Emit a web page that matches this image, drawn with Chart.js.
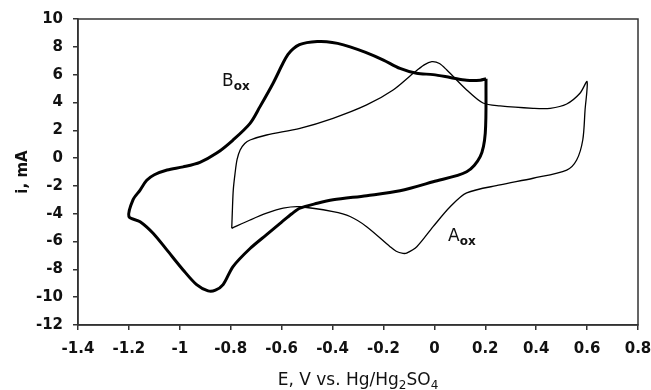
<!DOCTYPE html>
<html>
<head>
<meta charset="utf-8">
<script src="https://cdn.jsdelivr.net/npm/chart.js@4/dist/chart.umd.min.js"></script>
<style>
  html, body { margin: 0; padding: 0; background: #fff; }
  #wrap { width: 651px; height: 390px; position: relative; }
</style>
</head>
<body>
<div id="wrap"><canvas id="cvChart"></canvas></div>
<script>
// Thick loop (B), potential in V and current in mA
const curveB_E = [0.203, 0.18, 0.127, 0.062, -0.005, -0.07, -0.135, -0.2, -0.27, -0.331, -0.38, -0.423, -0.46, -0.501,
  -0.53, -0.555, -0.575, -0.594, -0.633, -0.685, -0.724, -0.791, -0.855, -0.921, -0.987, -1.05, -1.1, -1.13, -1.156,
  -1.184, -1.2, -1.156, -1.105, -1.051, -0.987, -0.934, -0.889, -0.86, -0.83, -0.791, -0.724, -0.659, -0.6, -0.56, -0.528,
  -0.46, -0.398, -0.266, -0.135, -0.005, 0.127, 0.18, 0.2, 0.203];
const curveB_I = [5.7, 5.6, 5.6, 5.8, 6.0, 6.1, 6.45, 7.05, 7.6, 8.0, 8.25, 8.37, 8.38, 8.3,
  8.15, 7.85, 7.45, 6.85, 5.4, 3.7, 2.5, 1.3, 0.36, -0.3, -0.63, -0.86, -1.2, -1.6, -2.3,
  -3.0, -4.2, -4.57, -5.4, -6.6, -8.04, -9.1, -9.55, -9.5, -9.1, -7.8, -6.5, -5.5, -4.6, -4.0, -3.6,
  -3.25, -3.0, -2.7, -2.35, -1.7, -0.98, 0.1, 1.8, 5.7];

// Thin loop (A)
const curveA_E = [-0.796, -0.793, -0.79, -0.783, -0.775, -0.763, -0.745, -0.724, -0.659, -0.528, -0.398, -0.266, -0.162,
  -0.083, -0.04, -0.01, 0.02, 0.049, 0.127, 0.191, 0.258, 0.388, 0.455, 0.52, 0.572, 0.6,
  0.592, 0.583, 0.559, 0.52, 0.388, 0.258, 0.127, 0.062, -0.005, -0.069, -0.109, -0.123, -0.15, -0.174,
  -0.266, -0.331, -0.398, -0.528, -0.594, -0.659, -0.724, -0.796];
const curveA_I = [-5.05, -3.5, -2.3, -1.1, -0.1, 0.58, 1.05, 1.3, 1.66, 2.14, 2.86, 3.82, 4.9,
  6.1, 6.7, 6.93, 6.8, 6.33, 4.9, 3.96, 3.75, 3.58, 3.58, 3.89, 4.66, 5.5,
  3.46, 1.3, -0.14, -0.86, -1.45, -1.93, -2.5, -3.5, -4.93, -6.37, -6.83, -6.85, -6.7, -6.37,
  -4.93, -4.2, -3.85, -3.5, -3.6, -3.96, -4.45, -5.05];

// Axis ranges / ticks
const xRange = [-1.4, 0.8];
const xStep = 0.2;
const yRange = [-12, 10];
const yStep = 2;

// Peak labels: [main letter, subscript, E, i]
const peakLabels = [['B', 'ox', -0.834, 5.6], ['A', 'ox', 0.054, -5.5]];

const toPts = (xs, ys) => xs.map((x, i) => ({ x: x, y: ys[i] }));
const axisColor = '#333';

// draw the frame, the x title with subscripts and the peak labels
const extras = {
  id: 'extras',
  afterDraw(chart) {
    const { ctx, chartArea: a, scales } = chart;
    ctx.save();
    ctx.strokeStyle = axisColor;
    ctx.lineWidth = 1.5;
    ctx.strokeRect(a.left, a.top, a.right - a.left, a.bottom - a.top);

    ctx.fillStyle = '#111';
    ctx.textBaseline = 'alphabetic';
    // x title: E, V vs. Hg/Hg2SO4
    const parts = [['E, V vs. Hg/Hg', 0], ['2', 1], ['SO', 0], ['4', 1]];
    const big = '17px "DejaVu Sans"', small = '12px "DejaVu Sans"';
    let w = 0;
    parts.forEach(p => { ctx.font = p[1] ? small : big; w += ctx.measureText(p[0]).width; });
    let x = (a.left + a.right) / 2 - w / 2;
    const yb = 385;
    parts.forEach(p => {
      ctx.font = p[1] ? small : big;
      ctx.fillText(p[0], x, p[1] ? yb + 4 : yb);
      x += ctx.measureText(p[0]).width;
    });

    // peak labels
    peakLabels.forEach(l => {
      const px = scales.x.getPixelForValue(l[2]);
      const py = scales.y.getPixelForValue(l[3]);
      ctx.font = '17px "DejaVu Sans"';
      ctx.fillText(l[0], px, py + 6);
      const bw = ctx.measureText(l[0]).width;
      ctx.font = 'bold 12px "DejaVu Sans"';
      ctx.fillText(l[1], px + bw, py + 10);
    });
    ctx.restore();
  }
};

const lineDs = (label, pts, width) => ({
  label: label,
  data: pts,
  showLine: true,
  borderColor: '#000',
  borderWidth: width,
  pointRadius: 0,
  tension: 0.3,
  fill: false
});

const config = {
  type: 'scatter',
  data: {
    datasets: [
      lineDs('B', toPts(curveB_E, curveB_I), 3),
      lineDs('A', toPts(curveA_E, curveA_I), 1.3)
    ]
  },
  options: {
    responsive: false,
    animation: false,
    layout: { padding: { top: 19, right: 13, left: 0, bottom: 0 } },
    plugins: {
      legend: { display: false },
      tooltip: { enabled: false }
    },
    scales: {
      x: {
        type: 'linear',
        min: xRange[0],
        max: xRange[1],
        // fixed height, and no extra room for the end labels
        afterFit: s => { s.height = 65; s.paddingLeft = 0; s.paddingRight = 0; },
        border: { display: true, color: axisColor, width: 1.5 },
        grid: { drawOnChartArea: false, drawTicks: true, tickLength: 5, color: axisColor, lineWidth: 1.5 },
        ticks: {
          stepSize: xStep,
          padding: 10,
          color: '#111',
          font: { family: 'DejaVu Sans', size: 15, weight: 'bold' },
          callback: v => String(parseFloat(v.toFixed(1)))
        },
        title: { display: false }
      },
      y: {
        type: 'linear',
        min: yRange[0],
        max: yRange[1],
        afterFit: s => { s.width = 78; s.paddingTop = 0; s.paddingBottom = 0; },
        border: { display: true, color: axisColor, width: 1.5 },
        grid: { drawOnChartArea: false, drawTicks: true, tickLength: 5, color: axisColor, lineWidth: 1.5 },
        ticks: {
          stepSize: yStep,
          padding: 10,
          color: '#111',
          font: { family: 'DejaVu Sans', size: 15, weight: 'bold' },
          callback: v => String(v)
        },
        title: {
          display: true,
          text: 'i, mA',
          color: '#111',
          padding: { top: 14, bottom: 0 },
          font: { family: 'DejaVu Sans', size: 15, weight: 'bold' }
        }
      }
    }
  },
  plugins: [extras]
};

const cv = document.getElementById('cvChart');
cv.width = 651;
cv.height = 390;
new Chart(cv.getContext('2d'), config);
</script>
</body>
</html>
